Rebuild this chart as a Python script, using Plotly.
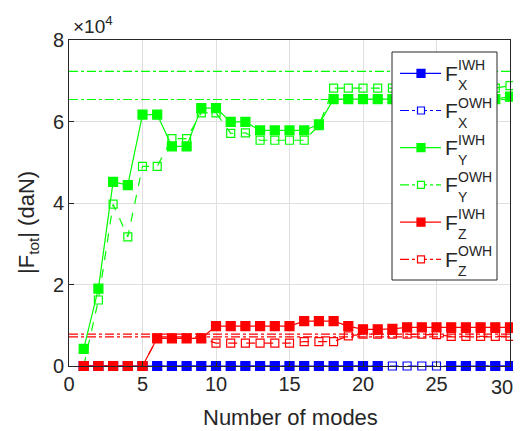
import plotly.graph_objects as go

modes = list(range(1, 31))

# |F| values (daN)
fx_iwh = [0]*21 + [None]*4 + [0]*5
fx_owh = [0]*30

fy_iwh = [4200, 19000, 45200, 44400, 61700, 61700, 53900, 53900, 63300, 63300,
          59900, 59900, 57800, 57800, 57800, 57800, 59300, 65500, 65500, 65500,
          65500, 65500, 65500, 65500, 65500, 65500, 65500, 65500, 65500, 66100]
fy_owh = [0, 16200, 39700, 31700, 49000, 49000, 55800, 55800, 62100, 62100,
          57100, 57200, 55400, 55400, 55400, 55400, 59000, 68200, 68200, 68200,
          68200, 68200, 68200, 68200, 68200, 68200, 68200, 68200, 68200, 68800]

fz_iwh = [0, 0, 0, 0, 0, 6800, 6800, 6800, 6800, 9800,
          9800, 9800, 9800, 9800, 9800, 11000, 11000, 11000, 9800, 9000,
          9000, 9100, 9500, 9500, 9500, 9500, 9500, 9500, 9500, 9500]
fz_owh = [0, 0, 0, 0, 0, 6800, 6800, 6800, 6800, 5600,
          5600, 5600, 5600, 5600, 5600, 6000, 6000, 6000, 7400, 7800,
          7800, 7800, 7800, 7800, 7700, 7250, 7250, 7250, 7250, 7250]

# reference (dash-dot) levels
green_ref = [72300, 65400]
red_ref = [7800, 7150]

x_ticks = [0, 5, 10, 15, 20, 25, 30]
x_ticktext = ["0", "5", "10", "15", "20", "25", ""]  # last label placed by hand (kept inside window)
x_last_label = "30"
y_ticks = [0, 20000, 40000, 60000, 80000]
y_ticktext = ["0", "2", "4", "6", "8"]

BLUE = "#0000ff"
GREEN = "#00ff00"
RED = "#ff0000"
TXT = "#262626"
FONT = "Liberation Sans, Arial, sans-serif"

fig = go.Figure()

series = [
    (fx_iwh, BLUE, "solid", "square", 9),
    (fx_owh, BLUE, "dash", "square-open", 8),
    (fy_iwh, GREEN, "solid", "square", 9),
    (fy_owh, GREEN, "dash", "square-open", 8),
    (fz_iwh, RED, "solid", "square", 9),
    (fz_owh, RED, "dash", "square-open", 8),
]

for v in green_ref:
    fig.add_trace(go.Scatter(x=[0, 30], y=[v, v], mode="lines",
                             line=dict(color=GREEN, width=1.2, dash="dashdot"),
                             showlegend=False, hoverinfo="skip"))
for v in red_ref:
    fig.add_trace(go.Scatter(x=[0, 30], y=[v, v], mode="lines",
                             line=dict(color=RED, width=1.2, dash="dashdot"),
                             showlegend=False, hoverinfo="skip"))

for ys, col, dash, sym, sz in series:
    fig.add_trace(go.Scatter(
        x=modes, y=ys, mode="lines+markers", cliponaxis=False,
        line=dict(color=col, width=1.2, dash=dash),
        marker=dict(symbol=sym, size=sz, color=col, line=dict(color=col, width=1.2)),
        showlegend=False, connectgaps=False))

# page offset caused by the default 8px body margin
OFF = 8
FIG_W, FIG_H = 521 - OFF, 431 - OFF

# plot area in window pixels
L, R, T, B = 69, 510, 40, 366
W, H = R - L, B - T


def px(x):
    return (x - L) / W


def py(y):
    return (B - y) / H


shapes = [dict(type="rect", xref="paper", yref="paper",
               x0=px(392), x1=px(497), y0=py(280), y1=py(52),
               line=dict(color=TXT, width=1), fillcolor="white", layer="above")]
annotations = []
entries = [
    (BLUE, "solid", True, "X", "IWH"),
    (BLUE, "dashdot", False, "X", "OWH"),
    (GREEN, "solid", True, "Y", "IWH"),
    (GREEN, "dashdot", False, "Y", "OWH"),
    (RED, "solid", True, "Z", "IWH"),
    (RED, "dashdot", False, "Z", "OWH"),
]
ey0, estep = 73.3, 37.2
for i, (col, dash, filled, sub, sup) in enumerate(entries):
    ey = ey0 + i * estep
    shapes.append(dict(type="line", xref="paper", yref="paper",
                       x0=px(400), x1=px(441), y0=py(ey), y1=py(ey),
                       line=dict(color=col, width=1.2, dash=dash), layer="above"))
    ms = 8 if filled else 7
    shapes.append(dict(type="rect", xref="paper", yref="paper",
                       x0=px(421 - ms / 2), x1=px(421 + ms / 2),
                       y0=py(ey + ms / 2), y1=py(ey - ms / 2),
                       line=dict(color=col, width=1.2),
                       fillcolor=col if filled else "white", layer="above"))
    annotations.append(dict(x=px(444), y=py(ey), xref="paper", yref="paper",
                            text="F", showarrow=False, xanchor="left", yanchor="middle",
                            borderpad=0,
                            font=dict(size=21, color=TXT, family=FONT)))
    annotations.append(dict(x=px(456.5), y=py(ey - 8), xref="paper", yref="paper",
                            text=sup, showarrow=False, xanchor="left", yanchor="middle",
                            borderpad=0,
                            font=dict(size=14, color=TXT, family=FONT)))
    annotations.append(dict(x=px(456.5), y=py(ey + 12), xref="paper", yref="paper",
                            text=sub, showarrow=False, xanchor="left", yanchor="middle",
                            borderpad=0,
                            font=dict(size=14, color=TXT, family=FONT)))

# last x tick label
annotations.append(dict(x=px(501.5), y=py(387), xref="paper", yref="paper",
                        text=x_last_label, showarrow=False,
                        xanchor="center", yanchor="middle", borderpad=0,
                        font=dict(size=20, color=TXT, family=FONT)))
# axis labels
annotations.append(dict(x=px(290), y=py(417), xref="paper", yref="paper",
                        text="Number of modes", showarrow=False,
                        xanchor="center", yanchor="middle",
                        font=dict(size=22, color=TXT, family=FONT)))
annotations.append(dict(x=px(28), y=py(223), xref="paper", yref="paper",
                        text="|F<sub>tot</sub>| (daN)", showarrow=False, textangle=-90,
                        xanchor="center", yanchor="middle",
                        font=dict(size=22, color=TXT, family=FONT)))
annotations.append(dict(x=px(71), y=py(25), xref="paper", yref="paper",
                        text="\u00d710<sup>4</sup>", showarrow=False,
                        xanchor="left", yanchor="middle",
                        font=dict(size=19, color=TXT, family=FONT)))

axis_common = dict(showgrid=True, gridcolor="#dfdfdf", gridwidth=1,
                   showline=True, linecolor=TXT, linewidth=1, mirror=True,
                   ticks="inside", ticklen=5, tickcolor=TXT, automargin=False,
                   tickfont=dict(size=20, color=TXT, family=FONT), zeroline=False)

fig.update_layout(
    width=FIG_W, height=FIG_H,
    margin=dict(l=L - OFF, r=521 - R, t=T - OFF, b=431 - B),
    paper_bgcolor="white", plot_bgcolor="white",
    xaxis=dict(range=[0, 30], tickvals=x_ticks, ticktext=x_ticktext, **axis_common),
    yaxis=dict(range=[0, 80000], tickvals=y_ticks, ticktext=y_ticktext, **axis_common),
    shapes=shapes, annotations=annotations, showlegend=False,
    font=dict(family=FONT, color=TXT),
)

fig.write_html("out.html")
